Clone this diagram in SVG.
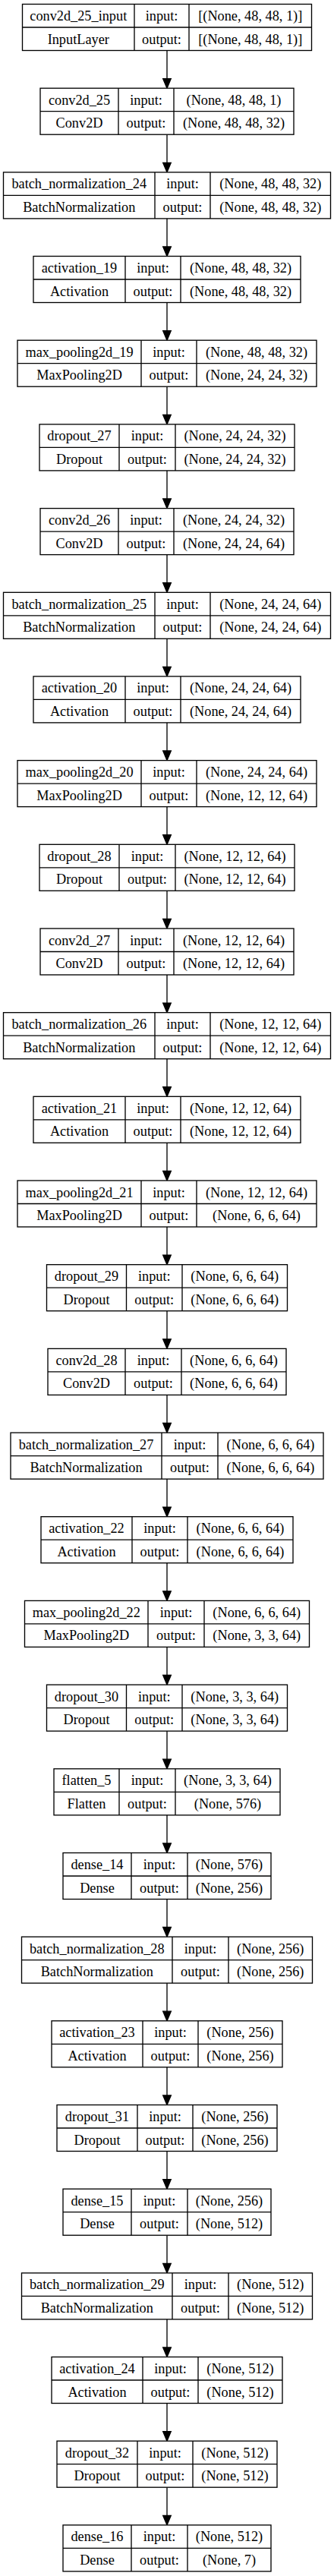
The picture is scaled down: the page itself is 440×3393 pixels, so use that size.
<svg xmlns="http://www.w3.org/2000/svg" width="440" height="3393" viewBox="0 0 440 3393">
<style>
.node rect{fill:#fff;stroke:#000;stroke-width:1.33}
.node path{fill:none;stroke:#000;stroke-width:1.33}
.node text{font-family:"Liberation Serif","Times New Roman",serif;font-size:18.3px;text-anchor:middle;fill:#000}
#edges path{fill:none;stroke:#000;stroke-width:1.33;marker-end:url(#ah)}
</style>
<defs>
<marker id="ah" markerUnits="userSpaceOnUse" orient="auto" viewBox="0 0 14 12" refX="13.3" refY="6" markerWidth="14" markerHeight="12" overflow="visible">
<path d="M0.7,0.7L13.3,6L0.7,11.3z" fill="#000" stroke="#000" stroke-width="1.33"/>
</marker>
</defs>
<rect x="0" y="0" width="440" height="3393" fill="#fff"/>
<g id="edges">
<path d="M220,66.5V116.2"/>
<path d="M220,177.2V226.9"/>
<path d="M220,287.9V337.5"/>
<path d="M220,398.5V448.2"/>
<path d="M220,509.2V558.9"/>
<path d="M220,619.9V669.6"/>
<path d="M220,730.6V780.3"/>
<path d="M220,841.3V890.9"/>
<path d="M220,951.9V1001.6"/>
<path d="M220,1062.6V1112.3"/>
<path d="M220,1173.3V1223"/>
<path d="M220,1284V1333.7"/>
<path d="M220,1394.7V1444.3"/>
<path d="M220,1505.3V1555"/>
<path d="M220,1616V1665.7"/>
<path d="M220,1726.7V1776.4"/>
<path d="M220,1837.4V1887.1"/>
<path d="M220,1948.1V1997.7"/>
<path d="M220,2058.7V2108.4"/>
<path d="M220,2169.4V2219.1"/>
<path d="M220,2280.1V2329.8"/>
<path d="M220,2390.8V2440.5"/>
<path d="M220,2501.5V2551.1"/>
<path d="M220,2612.1V2661.8"/>
<path d="M220,2722.8V2772.5"/>
<path d="M220,2833.5V2883.2"/>
<path d="M220,2944.2V2993.9"/>
<path d="M220,3054.9V3104.5"/>
<path d="M220,3165.5V3215.2"/>
<path d="M220,3276.2V3325.9"/>
</g>

<g id="conv2d_25_input" class="node" transform="translate(0,5.5)">
<rect x="29.5" y="0" width="381" height="61"/>
<path d="M177,0V61M249,0V61M29.5,30.5H410.5"/>
<text x="103.25" y="21.5">conv2d_25_input</text><text x="103.25" y="52">InputLayer</text>
<text x="213" y="21.5">input:</text><text x="213" y="52">output:</text>
<text x="329.75" y="21.5">[(None, 48, 48, 1)]</text><text x="329.75" y="52">[(None, 48, 48, 1)]</text>
</g>

<g id="conv2d_25" class="node" transform="translate(0,116.2)">
<rect x="53" y="0" width="334" height="61"/>
<path d="M156,0V61M229,0V61M53,30.5H387"/>
<text x="104.5" y="21.5">conv2d_25</text><text x="104.5" y="52">Conv2D</text>
<text x="192.5" y="21.5">input:</text><text x="192.5" y="52">output:</text>
<text x="308" y="21.5">(None, 48, 48, 1)</text><text x="308" y="52">(None, 48, 48, 32)</text>
</g>

<g id="batch_normalization_24" class="node" transform="translate(0,226.9)">
<rect x="4.5" y="0" width="431" height="61"/>
<path d="M204,0V61M277,0V61M4.5,30.5H435.5"/>
<text x="104.25" y="21.5">batch_normalization_24</text><text x="104.25" y="52">BatchNormalization</text>
<text x="240.5" y="21.5">input:</text><text x="240.5" y="52">output:</text>
<text x="356.25" y="21.5">(None, 48, 48, 32)</text><text x="356.25" y="52">(None, 48, 48, 32)</text>
</g>

<g id="activation_19" class="node" transform="translate(0,337.5)">
<rect x="44" y="0" width="352" height="61"/>
<path d="M165,0V61M238,0V61M44,30.5H396"/>
<text x="104.5" y="21.5">activation_19</text><text x="104.5" y="52">Activation</text>
<text x="201.5" y="21.5">input:</text><text x="201.5" y="52">output:</text>
<text x="317" y="21.5">(None, 48, 48, 32)</text><text x="317" y="52">(None, 48, 48, 32)</text>
</g>

<g id="max_pooling2d_19" class="node" transform="translate(0,448.2)">
<rect x="23" y="0" width="394" height="61"/>
<path d="M186,0V61M259,0V61M23,30.5H417"/>
<text x="104.5" y="21.5">max_pooling2d_19</text><text x="104.5" y="52">MaxPooling2D</text>
<text x="222.5" y="21.5">input:</text><text x="222.5" y="52">output:</text>
<text x="338" y="21.5">(None, 48, 48, 32)</text><text x="338" y="52">(None, 24, 24, 32)</text>
</g>

<g id="dropout_27" class="node" transform="translate(0,558.9)">
<rect x="52" y="0" width="336" height="61"/>
<path d="M157,0V61M231,0V61M52,30.5H388"/>
<text x="104.5" y="21.5">dropout_27</text><text x="104.5" y="52">Dropout</text>
<text x="194" y="21.5">input:</text><text x="194" y="52">output:</text>
<text x="309.5" y="21.5">(None, 24, 24, 32)</text><text x="309.5" y="52">(None, 24, 24, 32)</text>
</g>

<g id="conv2d_26" class="node" transform="translate(0,669.6)">
<rect x="53" y="0" width="334" height="61"/>
<path d="M156,0V61M229,0V61M53,30.5H387"/>
<text x="104.5" y="21.5">conv2d_26</text><text x="104.5" y="52">Conv2D</text>
<text x="192.5" y="21.5">input:</text><text x="192.5" y="52">output:</text>
<text x="308" y="21.5">(None, 24, 24, 32)</text><text x="308" y="52">(None, 24, 24, 64)</text>
</g>

<g id="batch_normalization_25" class="node" transform="translate(0,780.3)">
<rect x="4.5" y="0" width="431" height="61"/>
<path d="M204,0V61M277,0V61M4.5,30.5H435.5"/>
<text x="104.25" y="21.5">batch_normalization_25</text><text x="104.25" y="52">BatchNormalization</text>
<text x="240.5" y="21.5">input:</text><text x="240.5" y="52">output:</text>
<text x="356.25" y="21.5">(None, 24, 24, 64)</text><text x="356.25" y="52">(None, 24, 24, 64)</text>
</g>

<g id="activation_20" class="node" transform="translate(0,890.9)">
<rect x="44" y="0" width="352" height="61"/>
<path d="M165,0V61M238,0V61M44,30.5H396"/>
<text x="104.5" y="21.5">activation_20</text><text x="104.5" y="52">Activation</text>
<text x="201.5" y="21.5">input:</text><text x="201.5" y="52">output:</text>
<text x="317" y="21.5">(None, 24, 24, 64)</text><text x="317" y="52">(None, 24, 24, 64)</text>
</g>

<g id="max_pooling2d_20" class="node" transform="translate(0,1001.6)">
<rect x="23" y="0" width="394" height="61"/>
<path d="M186,0V61M259,0V61M23,30.5H417"/>
<text x="104.5" y="21.5">max_pooling2d_20</text><text x="104.5" y="52">MaxPooling2D</text>
<text x="222.5" y="21.5">input:</text><text x="222.5" y="52">output:</text>
<text x="338" y="21.5">(None, 24, 24, 64)</text><text x="338" y="52">(None, 12, 12, 64)</text>
</g>

<g id="dropout_28" class="node" transform="translate(0,1112.3)">
<rect x="52" y="0" width="336" height="61"/>
<path d="M157,0V61M231,0V61M52,30.5H388"/>
<text x="104.5" y="21.5">dropout_28</text><text x="104.5" y="52">Dropout</text>
<text x="194" y="21.5">input:</text><text x="194" y="52">output:</text>
<text x="309.5" y="21.5">(None, 12, 12, 64)</text><text x="309.5" y="52">(None, 12, 12, 64)</text>
</g>

<g id="conv2d_27" class="node" transform="translate(0,1223)">
<rect x="53" y="0" width="334" height="61"/>
<path d="M156,0V61M229,0V61M53,30.5H387"/>
<text x="104.5" y="21.5">conv2d_27</text><text x="104.5" y="52">Conv2D</text>
<text x="192.5" y="21.5">input:</text><text x="192.5" y="52">output:</text>
<text x="308" y="21.5">(None, 12, 12, 64)</text><text x="308" y="52">(None, 12, 12, 64)</text>
</g>

<g id="batch_normalization_26" class="node" transform="translate(0,1333.7)">
<rect x="4.5" y="0" width="431" height="61"/>
<path d="M204,0V61M277,0V61M4.5,30.5H435.5"/>
<text x="104.25" y="21.5">batch_normalization_26</text><text x="104.25" y="52">BatchNormalization</text>
<text x="240.5" y="21.5">input:</text><text x="240.5" y="52">output:</text>
<text x="356.25" y="21.5">(None, 12, 12, 64)</text><text x="356.25" y="52">(None, 12, 12, 64)</text>
</g>

<g id="activation_21" class="node" transform="translate(0,1444.3)">
<rect x="44" y="0" width="352" height="61"/>
<path d="M165,0V61M238,0V61M44,30.5H396"/>
<text x="104.5" y="21.5">activation_21</text><text x="104.5" y="52">Activation</text>
<text x="201.5" y="21.5">input:</text><text x="201.5" y="52">output:</text>
<text x="317" y="21.5">(None, 12, 12, 64)</text><text x="317" y="52">(None, 12, 12, 64)</text>
</g>

<g id="max_pooling2d_21" class="node" transform="translate(0,1555)">
<rect x="23" y="0" width="394" height="61"/>
<path d="M186,0V61M259,0V61M23,30.5H417"/>
<text x="104.5" y="21.5">max_pooling2d_21</text><text x="104.5" y="52">MaxPooling2D</text>
<text x="222.5" y="21.5">input:</text><text x="222.5" y="52">output:</text>
<text x="338" y="21.5">(None, 12, 12, 64)</text><text x="338" y="52">(None, 6, 6, 64)</text>
</g>

<g id="dropout_29" class="node" transform="translate(0,1665.7)">
<rect x="61.5" y="0" width="317" height="61"/>
<path d="M166.5,0V61M240,0V61M61.5,30.5H378.5"/>
<text x="114" y="21.5">dropout_29</text><text x="114" y="52">Dropout</text>
<text x="203.25" y="21.5">input:</text><text x="203.25" y="52">output:</text>
<text x="309.25" y="21.5">(None, 6, 6, 64)</text><text x="309.25" y="52">(None, 6, 6, 64)</text>
</g>

<g id="conv2d_28" class="node" transform="translate(0,1776.4)">
<rect x="63" y="0" width="314" height="61"/>
<path d="M165,0V61M239,0V61M63,30.5H377"/>
<text x="114" y="21.5">conv2d_28</text><text x="114" y="52">Conv2D</text>
<text x="202" y="21.5">input:</text><text x="202" y="52">output:</text>
<text x="308" y="21.5">(None, 6, 6, 64)</text><text x="308" y="52">(None, 6, 6, 64)</text>
</g>

<g id="batch_normalization_27" class="node" transform="translate(0,1887.1)">
<rect x="14" y="0" width="412" height="61"/>
<path d="M213,0V61M287,0V61M14,30.5H426"/>
<text x="113.5" y="21.5">batch_normalization_27</text><text x="113.5" y="52">BatchNormalization</text>
<text x="250" y="21.5">input:</text><text x="250" y="52">output:</text>
<text x="356.5" y="21.5">(None, 6, 6, 64)</text><text x="356.5" y="52">(None, 6, 6, 64)</text>
</g>

<g id="activation_22" class="node" transform="translate(0,1997.7)">
<rect x="54" y="0" width="332" height="61"/>
<path d="M174,0V61M247,0V61M54,30.5H386"/>
<text x="114" y="21.5">activation_22</text><text x="114" y="52">Activation</text>
<text x="210.5" y="21.5">input:</text><text x="210.5" y="52">output:</text>
<text x="316.5" y="21.5">(None, 6, 6, 64)</text><text x="316.5" y="52">(None, 6, 6, 64)</text>
</g>

<g id="max_pooling2d_22" class="node" transform="translate(0,2108.4)">
<rect x="32.5" y="0" width="375" height="61"/>
<path d="M195,0V61M269,0V61M32.5,30.5H407.5"/>
<text x="113.75" y="21.5">max_pooling2d_22</text><text x="113.75" y="52">MaxPooling2D</text>
<text x="232" y="21.5">input:</text><text x="232" y="52">output:</text>
<text x="338.25" y="21.5">(None, 6, 6, 64)</text><text x="338.25" y="52">(None, 3, 3, 64)</text>
</g>

<g id="dropout_30" class="node" transform="translate(0,2219.1)">
<rect x="61.5" y="0" width="317" height="61"/>
<path d="M166.5,0V61M240,0V61M61.5,30.5H378.5"/>
<text x="114" y="21.5">dropout_30</text><text x="114" y="52">Dropout</text>
<text x="203.25" y="21.5">input:</text><text x="203.25" y="52">output:</text>
<text x="309.25" y="21.5">(None, 3, 3, 64)</text><text x="309.25" y="52">(None, 3, 3, 64)</text>
</g>

<g id="flatten_5" class="node" transform="translate(0,2329.8)">
<rect x="71" y="0" width="298" height="61"/>
<path d="M157,0V61M231,0V61M71,30.5H369"/>
<text x="114" y="21.5">flatten_5</text><text x="114" y="52">Flatten</text>
<text x="194" y="21.5">input:</text><text x="194" y="52">output:</text>
<text x="300" y="21.5">(None, 3, 3, 64)</text><text x="300" y="52">(None, 576)</text>
</g>

<g id="dense_14" class="node" transform="translate(0,2440.5)">
<rect x="83" y="0" width="274" height="61"/>
<path d="M173,0V61M247,0V61M83,30.5H357"/>
<text x="128" y="21.5">dense_14</text><text x="128" y="52">Dense</text>
<text x="210" y="21.5">input:</text><text x="210" y="52">output:</text>
<text x="302" y="21.5">(None, 576)</text><text x="302" y="52">(None, 256)</text>
</g>

<g id="batch_normalization_28" class="node" transform="translate(0,2551.1)">
<rect x="28.5" y="0" width="383" height="61"/>
<path d="M227,0V61M301,0V61M28.5,30.5H411.5"/>
<text x="127.75" y="21.5">batch_normalization_28</text><text x="127.75" y="52">BatchNormalization</text>
<text x="264" y="21.5">input:</text><text x="264" y="52">output:</text>
<text x="356.25" y="21.5">(None, 256)</text><text x="356.25" y="52">(None, 256)</text>
</g>

<g id="activation_23" class="node" transform="translate(0,2661.8)">
<rect x="68" y="0" width="304" height="61"/>
<path d="M188,0V61M261,0V61M68,30.5H372"/>
<text x="128" y="21.5">activation_23</text><text x="128" y="52">Activation</text>
<text x="224.5" y="21.5">input:</text><text x="224.5" y="52">output:</text>
<text x="316.5" y="21.5">(None, 256)</text><text x="316.5" y="52">(None, 256)</text>
</g>

<g id="dropout_31" class="node" transform="translate(0,2772.5)">
<rect x="75" y="0" width="290" height="61"/>
<path d="M181,0V61M254,0V61M75,30.5H365"/>
<text x="128" y="21.5">dropout_31</text><text x="128" y="52">Dropout</text>
<text x="217.5" y="21.5">input:</text><text x="217.5" y="52">output:</text>
<text x="309.5" y="21.5">(None, 256)</text><text x="309.5" y="52">(None, 256)</text>
</g>

<g id="dense_15" class="node" transform="translate(0,2883.2)">
<rect x="83" y="0" width="274" height="61"/>
<path d="M173,0V61M247,0V61M83,30.5H357"/>
<text x="128" y="21.5">dense_15</text><text x="128" y="52">Dense</text>
<text x="210" y="21.5">input:</text><text x="210" y="52">output:</text>
<text x="302" y="21.5">(None, 256)</text><text x="302" y="52">(None, 512)</text>
</g>

<g id="batch_normalization_29" class="node" transform="translate(0,2993.9)">
<rect x="28.5" y="0" width="383" height="61"/>
<path d="M227,0V61M301,0V61M28.5,30.5H411.5"/>
<text x="127.75" y="21.5">batch_normalization_29</text><text x="127.75" y="52">BatchNormalization</text>
<text x="264" y="21.5">input:</text><text x="264" y="52">output:</text>
<text x="356.25" y="21.5">(None, 512)</text><text x="356.25" y="52">(None, 512)</text>
</g>

<g id="activation_24" class="node" transform="translate(0,3104.5)">
<rect x="68" y="0" width="304" height="61"/>
<path d="M188,0V61M261,0V61M68,30.5H372"/>
<text x="128" y="21.5">activation_24</text><text x="128" y="52">Activation</text>
<text x="224.5" y="21.5">input:</text><text x="224.5" y="52">output:</text>
<text x="316.5" y="21.5">(None, 512)</text><text x="316.5" y="52">(None, 512)</text>
</g>

<g id="dropout_32" class="node" transform="translate(0,3215.2)">
<rect x="75" y="0" width="290" height="61"/>
<path d="M181,0V61M254,0V61M75,30.5H365"/>
<text x="128" y="21.5">dropout_32</text><text x="128" y="52">Dropout</text>
<text x="217.5" y="21.5">input:</text><text x="217.5" y="52">output:</text>
<text x="309.5" y="21.5">(None, 512)</text><text x="309.5" y="52">(None, 512)</text>
</g>

<g id="dense_16" class="node" transform="translate(0,3325.9)">
<rect x="83" y="0" width="274" height="61"/>
<path d="M173,0V61M247,0V61M83,30.5H357"/>
<text x="128" y="21.5">dense_16</text><text x="128" y="52">Dense</text>
<text x="210" y="21.5">input:</text><text x="210" y="52">output:</text>
<text x="302" y="21.5">(None, 512)</text><text x="302" y="52">(None, 7)</text>
</g>
</svg>
